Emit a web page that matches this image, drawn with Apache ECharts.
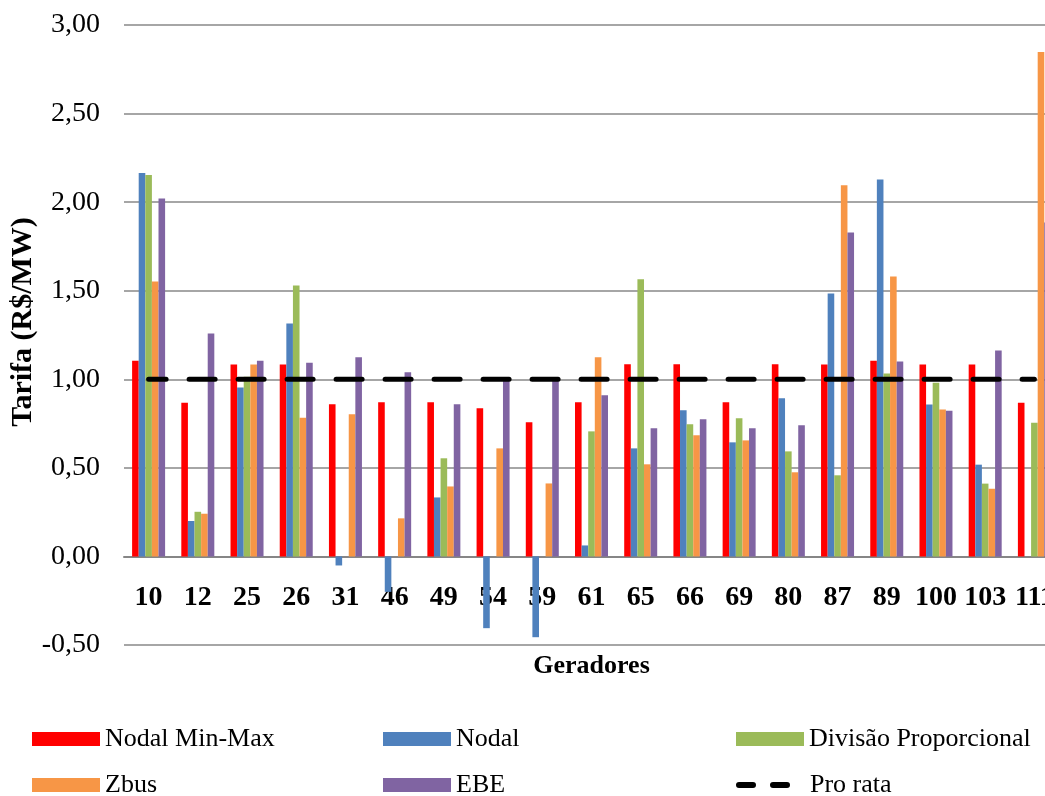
<!DOCTYPE html>
<html>
<head>
<meta charset="utf-8">
<script src="https://cdn.jsdelivr.net/npm/echarts@6/dist/echarts.min.js"></script>
<style>
  html, body { margin: 0; padding: 0; background: #ffffff; }
  #chart { width: 1045px; height: 796px; }
</style>
</head>
<body>
<div id="chart"></div>
<script>
// Generator buses
const categories = ['10', '12', '25', '26', '31', '46', '49', '54', '59', '61', '65', '66', '69', '80', '87', '89', '100', '103', '111'];

// Tariff by allocation method (R$/MW)
const nodalMinMax = [1.105, 0.868, 1.083, 1.083, 0.859, 0.870, 0.870, 0.836, 0.757, 0.870, 1.085, 1.085, 0.870, 1.085, 1.083, 1.105, 1.083, 1.083, 0.868];
const nodal = [2.164, 0.200, 0.953, 1.315, -0.051, -0.200, 0.333, -0.405, -0.456, 0.062, 0.610, 0.825, 0.644, 0.893, 1.484, 2.128, 0.857, 0.518, 0];
const divisaoProporcional = [2.153, 0.252, 1.015, 1.529, 0, 0, 0.554, 0, 0, 0.706, 1.565, 0.746, 0.780, 0.593, 0.458, 1.032, 0.980, 0.411, 0.755];
const zbus = [1.552, 0.241, 1.083, 0.783, 0.802, 0.215, 0.395, 0.610, 0.412, 1.124, 0.520, 0.684, 0.655, 0.475, 2.096, 1.580, 0.829, 0.382, 2.847];
const ebe = [2.021, 1.258, 1.105, 1.094, 1.124, 1.040, 0.859, 0.990, 0.990, 0.910, 0.723, 0.774, 0.723, 0.740, 1.829, 1.100, 0.823, 1.162, 1.885];
const proRata = [1, 1, 1, 1, 1, 1, 1, 1, 1, 1, 1, 1, 1, 1, 1, 1, 1, 1, 1];

// Value axis range
const Y_MIN = -0.5;
const Y_MAX = 3.0;
const Y_STEP = 0.5;

const SERIF = "'Liberation Serif', 'Times New Roman', serif";
const GRID = { left: 124, top: 25, width: 935, height: 620 };
// the category axis sits on the zero line of the value axis
const zeroOffset = -GRID.height * (0 - Y_MIN) / (Y_MAX - Y_MIN);

const chart = echarts.init(document.getElementById('chart'), null, { renderer: 'canvas' });

function barSeries(name, data, color) {
  return {
    name: name,
    type: 'bar',
    data: data,
    barWidth: 6.6,
    barGap: '0%',
    itemStyle: { color: color },
    emphasis: { disabled: true }
  };
}

function legendAt(name, left, top, extra) {
  return Object.assign({
    data: [{ name: name, icon: 'rect' }],
    left: left,
    top: top,
    padding: 0,
    orient: 'horizontal',
    itemWidth: 68,
    itemHeight: 14,
    selectedMode: false,
    textStyle: { fontFamily: SERIF, fontSize: 26, color: '#000', lineHeight: 26 }
  }, extra || {});
}

const dashIcon = 'path://M3,0 L17,0 A3,3 0 0 1 17,6 L3,6 A3,3 0 0 1 3,0 Z M37,0 L51,0 A3,3 0 0 1 51,6 L37,6 A3,3 0 0 1 37,0 Z';

const option = {
  backgroundColor: '#ffffff',
  animation: false,
  grid: Object.assign({ containLabel: false, outerBoundsMode: 'none' }, GRID),
  legend: [
    legendAt('Nodal Min-Max', 32, 726),
    legendAt('Nodal', 383, 726),
    legendAt('Divisão Proporcional', 736, 726),
    legendAt('Zbus', 32, 772),
    legendAt('EBE', 383, 772),
    legendAt('Pro rata', 736, 772, {
      itemWidth: 54,
      itemHeight: 6,
      data: [{ name: 'Pro rata', icon: dashIcon, itemStyle: { color: '#000' } }],
      textStyle: { fontFamily: SERIF, fontSize: 26, color: '#000', lineHeight: 26, padding: [0, 0, 0, 15] }
    })
  ],
  // value-axis title
  graphic: [{
    type: 'text',
    x: 23,
    y: 322,
    rotation: Math.PI / 2,
    silent: true,
    style: {
      text: 'Tarifa (R$/MW)',
      fontFamily: SERIF,
      fontSize: 30,
      fontWeight: 'bold',
      fill: '#000',
      align: 'center',
      verticalAlign: 'middle'
    }
  }],
  xAxis: {
    type: 'category',
    data: categories,
    position: 'bottom',
    offset: zeroOffset,
    name: 'Geradores',
    nameLocation: 'middle',
    nameGap: 97,
    nameMoveOverlap: false,
    nameTextStyle: { fontFamily: SERIF, fontSize: 26, fontWeight: 'bold', color: '#000' },
    axisLine: { show: true, onZero: false, lineStyle: { color: '#868686', width: 2 } },
    axisTick: { show: false },
    axisLabel: { interval: 0, margin: 27, fontFamily: SERIF, fontSize: 28, fontWeight: 'bold', color: '#000' },
    splitLine: { show: false }
  },
  yAxis: {
    type: 'value',
    min: Y_MIN,
    max: Y_MAX,
    interval: Y_STEP,
    axisLine: { show: false },
    axisTick: { show: false },
    axisLabel: {
      margin: 24,
      fontFamily: SERIF,
      fontSize: 28,
      color: '#000',
      formatter: function (v) { return v.toFixed(2).replace('.', ','); }
    },
    splitLine: { show: true, lineStyle: { color: '#A6A6A6', width: 2 } }
  },
  series: [
    barSeries('Nodal Min-Max', nodalMinMax, '#FF0000'),
    barSeries('Nodal', nodal, '#4F81BD'),
    barSeries('Divisão Proporcional', divisaoProporcional, '#9BBB59'),
    barSeries('Zbus', zbus, '#F79646'),
    barSeries('EBE', ebe, '#8064A2'),
    {
      name: 'Pro rata',
      type: 'line',
      data: proRata,
      symbol: 'none',
      z: 5,
      itemStyle: { color: '#000' },
      lineStyle: { color: '#000', width: 5, type: [26, 23], dashOffset: 8.5, cap: 'round' },
      emphasis: { disabled: true }
    }
  ]
};

chart.setOption(option);
</script>
</body>
</html>
